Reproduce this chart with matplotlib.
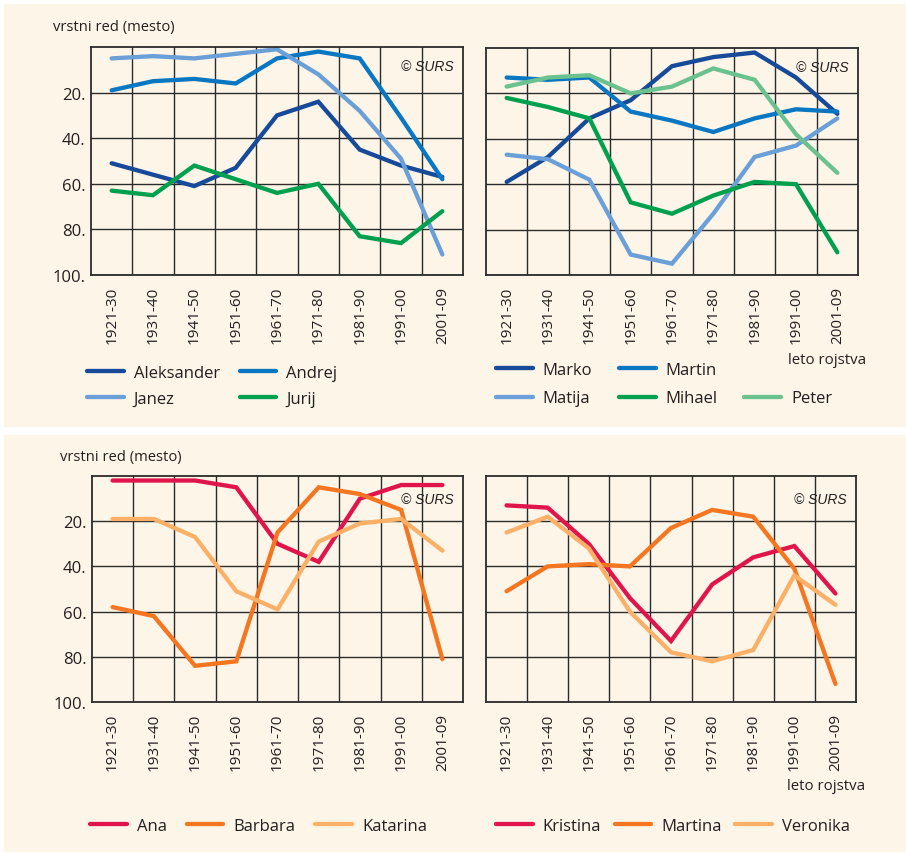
import matplotlib
matplotlib.use("Agg")
import matplotlib.pyplot as plt
from matplotlib.patches import Rectangle
from matplotlib.lines import Line2D

plt.rcParams['font.family'] = ['Open Sans', 'DejaVu Sans']

decades = ["1921-30", "1931-40", "1941-50", "1951-60", "1961-70",
           "1971-80", "1981-90", "1991-00", "2001-09"]

# rank (mesto) by decade of birth
aleksander = [51, 56, 61, 53, 30, 24, 45, 52, 57]
andrej = [19, 15, 14, 16, 5, 2, 5, 31, 58]
janez = [5, 4, 5, 3, 1, 12, 28, 49, 91]
jurij = [63, 65, 52, 58, 64, 60, 83, 86, 72]

marko = [59, 48, 31, 23, 8, 4, 2, 13, 29]
martin = [13, 14, 13, 28, 32, 37, 31, 27, 28]
matija = [47, 49, 58, 91, 95, 73, 48, 43, 31]
mihael = [22, 26, 31, 68, 73, 65, 59, 60, 90]
peter = [17, 13, 12, 20, 17, 9, 14, 38, 55]

ana = [2, 2, 2, 5, 30, 38, 10, 4, 4]
barbara = [58, 62, 84, 82, 25, 5, 8, 15, 81]
katarina = [19, 19, 27, 51, 59, 29, 21, 19, 33]

kristina = [13, 14, 30, 54, 73, 48, 36, 31, 52]
martina = [51, 40, 39, 40, 23, 15, 18, 41, 92]
veronika = [25, 18, 32, 60, 78, 82, 77, 44, 57]

c_navy = "#174A98"
c_blue = "#0A77C2"
c_lblue = "#6A9FD8"
c_green = "#00A04F"
c_lgreen = "#6CC28F"
c_red = "#E0154B"
c_orange = "#F47620"
c_lorange = "#FBB068"

W, H = 906, 854
bg = "#FDF5E8"
fig = plt.figure(figsize=(W / 100, H / 100), dpi=100)
fig.patch.set_facecolor("white")

# beige panels
fig.patches.append(Rectangle((4 / W, 1 - 427 / H), 902 / W, 422 / H,
                             transform=fig.transFigure, color=bg, zorder=-5))
fig.patches.append(Rectangle((4 / W, 1 - 852 / H), 902 / W, 416 / H,
                             transform=fig.transFigure, color=bg, zorder=-5))


def px_axes(x0, y0, x1, y1):
    return fig.add_axes([x0 / W, 1 - y1 / H, (x1 - x0) / W, (y1 - y0) / H])


def setup(ax, surs_y=0.915):
    ax.set_facecolor(bg)
    ax.set_xlim(-0.5, len(decades) - 0.5)
    ax.set_ylim(100, 0)
    ax.set_xticks(range(len(decades)))
    ax.set_xticklabels(decades, rotation=90, fontsize=11, color="#231F20")
    ax.set_xticks([i + 0.5 for i in range(len(decades) - 1)], minor=True)
    ax.set_yticks([20, 40, 60, 80, 100])
    ax.set_yticklabels(["20.", "40.", "60.", "80.", "100."], fontsize=12,
                       color="#231F20")
    ax.tick_params(axis="both", which="both", length=0)
    ax.tick_params(axis="x", pad=8)
    ax.tick_params(axis="y", pad=4)
    ax.grid(which="minor", axis="x", color="#2b2b2b", lw=1)
    ax.grid(which="major", axis="y", color="#2b2b2b", lw=1)
    ax.grid(which="major", axis="x", visible=False)
    ax.set_axisbelow(True)
    for s in ax.spines.values():
        s.set_color("#2b2b2b")
        s.set_linewidth(1.3)
    ax.text(0.975, surs_y, "© SURS", transform=ax.transAxes, ha="right",
            va="center", fontsize=10, style="italic", family="Liberation Sans",
            color="#231F20")


def plot_set(ax, series):
    x = range(len(decades))
    for vals, color, name in series:
        ax.plot(x, vals, color=color, lw=3.1, solid_capstyle="round",
                solid_joinstyle="miter", label=name)


kw = dict(frameon=False, fontsize=12, handlelength=2.2, handletextpad=0.6,
          borderpad=0, borderaxespad=0, labelspacing=0.58, labelcolor="#231F20")

# top left
ax1 = px_axes(91, 48, 463, 276)
setup(ax1)
plot_set(ax1, [(aleksander, c_navy, "Aleksander"), (andrej, c_blue, "Andrej"),
               (janez, c_lblue, "Janez"), (jurij, c_green, "Jurij")])
fig.text(53 / W, 1 - 28 / H, "vrstni red (mesto)", fontsize=10.6, va="center",
         color="#231F20")
h = {l.get_label(): l for l in ax1.get_lines()}
fig.legend([h["Aleksander"], h["Janez"], h["Andrej"], h["Jurij"]],
           ["Aleksander", "Janez", "Andrej", "Jurij"], ncol=2,
           loc="upper left", bbox_to_anchor=(87 / W, 1 - 366 / H),
           columnspacing=1.2, **kw)

# top right
ax2 = px_axes(486, 49, 858, 276)
setup(ax2)
plot_set(ax2, [(marko, c_navy, "Marko"), (martin, c_blue, "Martin"),
               (matija, c_lblue, "Matija"), (mihael, c_green, "Mihael"),
               (peter, c_lgreen, "Peter")])
ax2.set_yticklabels([])
fig.text(788 / W, 1 - 360 / H, "leto rojstva", fontsize=10.8, va="center",
         color="#231F20")
h = {l.get_label(): l for l in ax2.get_lines()}
blank = Line2D([], [], lw=0)
fig.legend([h["Marko"], h["Matija"], h["Martin"], h["Mihael"], blank, h["Peter"]],
           ["Marko", "Matija", "Martin", "Mihael", "", "Peter"], ncol=3,
           loc="upper left", bbox_to_anchor=(496 / W, 1 - 363 / H),
           columnspacing=1.6, labelspacing=0.75,
           **{k: v for k, v in kw.items() if k != "labelspacing"})

# bottom left
ax3 = px_axes(92, 477, 463, 703)
setup(ax3, surs_y=0.9)
plot_set(ax3, [(ana, c_red, "Ana"), (barbara, c_orange, "Barbara"),
               (katarina, c_lorange, "Katarina")])
fig.text(60 / W, 1 - 458 / H, "vrstni red (mesto)", fontsize=10.6, va="center",
         color="#231F20")
fig.legend(*ax3.get_legend_handles_labels(), ncol=3, loc="upper left",
           bbox_to_anchor=(90 / W, 1 - 819 / H), columnspacing=1.2, **kw)

# bottom right
ax4 = px_axes(486, 477, 856, 703)
setup(ax4, surs_y=0.9)
plot_set(ax4, [(kristina, c_red, "Kristina"), (martina, c_orange, "Martina"),
               (veronika, c_lorange, "Veronika")])
ax4.set_yticklabels([])
fig.text(787 / W, 1 - 787 / H, "leto rojstva", fontsize=10.8, va="center",
         color="#231F20")
fig.legend(*ax4.get_legend_handles_labels(), ncol=3, loc="upper left",
           bbox_to_anchor=(496 / W, 1 - 819 / H), columnspacing=0.8, **kw)

fig.savefig("out.png", dpi=100)
